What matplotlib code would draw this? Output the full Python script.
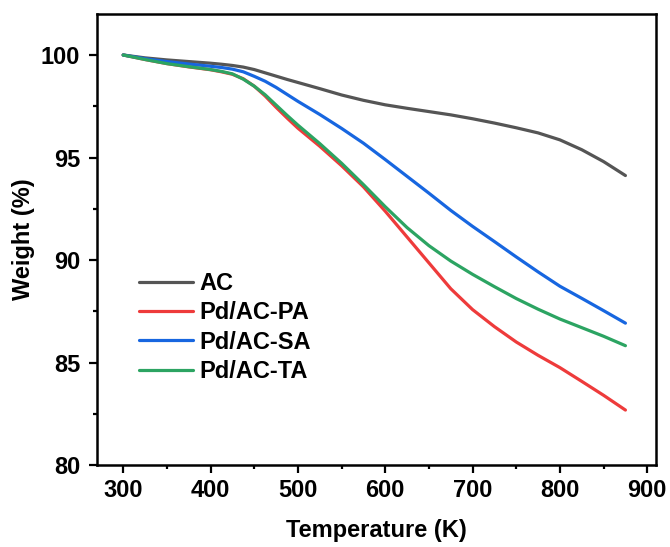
import matplotlib
matplotlib.use("Agg")
import matplotlib.pyplot as plt
from matplotlib.ticker import MultipleLocator

plt.rcParams['font.family'] = ['Liberation Sans', 'DejaVu Sans']
plt.rcParams['font.weight'] = 'bold'

temperature = [300, 325, 350, 375, 400, 412.5, 425, 437.5, 450, 462.5, 475, 487.5,
               500, 525, 550, 575, 600, 625, 650, 675, 700, 725, 750, 775,
               800, 825, 850, 875]

w_ac = [100.0, 99.86, 99.76, 99.68, 99.60, 99.55, 99.49, 99.41, 99.29, 99.13, 98.97, 98.81,
        98.66, 98.36, 98.05, 97.79, 97.57, 97.40, 97.24, 97.08, 96.89, 96.68, 96.45, 96.20,
        95.86, 95.38, 94.80, 94.12]
w_pa = [100.0, 99.78, 99.58, 99.42, 99.28, 99.18, 99.06, 98.84, 98.48, 98.00, 97.45, 96.93,
        96.43, 95.55, 94.60, 93.57, 92.38, 91.12, 89.86, 88.60, 87.58, 86.75, 86.00, 85.35,
        84.75, 84.08, 83.40, 82.68]
w_sa = [100.0, 99.82, 99.68, 99.56, 99.45, 99.39, 99.31, 99.18, 98.96, 98.72, 98.42, 98.08,
        97.74, 97.10, 96.42, 95.70, 94.90, 94.08, 93.26, 92.42, 91.64, 90.90, 90.15, 89.42,
        88.72, 88.13, 87.53, 86.92]
w_ta = [100.0, 99.78, 99.58, 99.43, 99.29, 99.20, 99.08, 98.82, 98.48, 98.06, 97.56, 97.06,
        96.58, 95.68, 94.72, 93.68, 92.60, 91.58, 90.70, 89.95, 89.30, 88.70, 88.12, 87.60,
        87.12, 86.70, 86.28, 85.82]

labels = ['AC', 'Pd/AC-PA', 'Pd/AC-SA', 'Pd/AC-TA']
colors = ['#555555', '#ee3b3b', '#1766e0', '#2ca462']

fig = plt.figure(figsize=(6.7, 5.47), dpi=100)
ax = fig.add_axes([97/670, 1-465/547, (656-97)/670, (465-14)/547])

for w, lab, c in zip([w_ac, w_pa, w_sa, w_ta], labels, colors):
    ax.plot(temperature, w, color=c, lw=2.3, label=lab,
            solid_capstyle='round', solid_joinstyle='round')

ax.set_xlim(270, 910)
ax.set_ylim(80, 102)
ax.xaxis.set_major_locator(MultipleLocator(100))
ax.xaxis.set_minor_locator(MultipleLocator(50))
ax.yaxis.set_major_locator(MultipleLocator(5))
ax.yaxis.set_minor_locator(MultipleLocator(2.5))

fs = 17
ax.tick_params(which='both', direction='out', top=False, right=False, width=1.6)
ax.tick_params(which='major', length=6, labelsize=fs)
ax.tick_params(axis='x', which='major', pad=4)
ax.tick_params(axis='y', which='major', pad=6)
ax.tick_params(which='minor', length=3)
for lbl in ax.get_xticklabels() + ax.get_yticklabels():
    lbl.set_fontweight('bold')
for s in ax.spines.values():
    s.set_linewidth(1.8)

ax.set_xlabel('Temperature (K)', fontsize=fs, fontweight='bold', labelpad=12)
ax.set_ylabel('Weight (%)', fontsize=fs, fontweight='bold', labelpad=4)

leg = ax.legend(loc='upper left', bbox_to_anchor=(0.075, 0.428), frameon=False,
                borderpad=0, borderaxespad=0, handlelength=2.3, handletextpad=0.28,
                labelspacing=0.27, prop={'size': fs, 'weight': 'bold'})

fig.savefig('out.png', dpi=100)
